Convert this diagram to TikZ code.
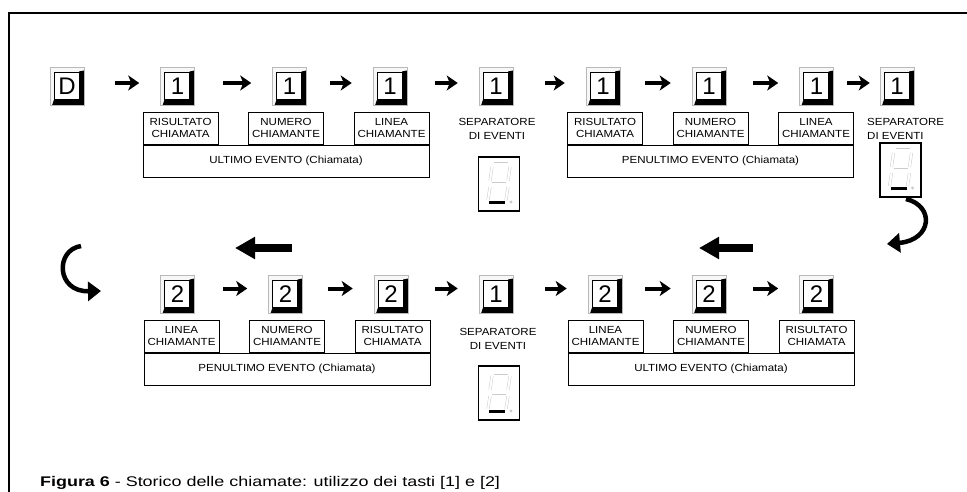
\documentclass[tikz,border=0pt]{standalone}
\usepackage{fontspec}
\setmainfont{Liberation Sans}
\newfontfamily\largo[FakeStretch=1.12]{Liberation Sans}
\newfontfamily\largodid[FakeStretch=1.28]{Liberation Sans}
\usetikzlibrary{positioning,arrows.meta}

\tikzset{
    tasto/.style={rectangle, minimum width=34pt, minimum height=38pt, inner sep=0pt,
        draw=gray!55, line width=0.5pt, fill=gray!6, font=\fontsize{24}{24}\selectfont,
        path picture={
            \fill[black] ([yshift=-3pt]path picture bounding box.north east)
                -- (path picture bounding box.south east)
                -- ([xshift=2pt]path picture bounding box.south west)
                -- ([xshift=4pt,yshift=6pt]path picture bounding box.south west)
                -- ([xshift=-5pt,yshift=6pt]path picture bounding box.south east)
                -- ([xshift=-5pt,yshift=-4pt]path picture bounding box.north east) -- cycle;
            \filldraw[fill=white, draw=black, line width=0.7pt]
                ([xshift=4pt,yshift=-5pt]path picture bounding box.north west)
                rectangle ([xshift=-5pt,yshift=6pt]path picture bounding box.south east);
        }},
    campo/.style={rectangle, draw, line width=0.6pt, minimum width=75pt, minimum height=32pt,
        inner sep=0pt, align=center, font=\fontsize{10.3}{12}\largo},
    evento/.style={campo, minimum width=286pt},
    nota/.style={align=center, inner sep=0pt, font=\fontsize{10.3}{13.5}\largo},
    segm/.style={draw=gray!40, line width=0.5pt, double=white, double distance=2pt},
    display/.style={rectangle, draw, line width=1.6pt, fill=white, minimum width=41pt, minimum height=54pt,
        path picture={
            \begin{scope}[shift={(path picture bounding box.center)}]
                \draw[segm] (-5,-20) -- (9,-20);
                \draw[segm] (-7,-17) -- (-9,-3);
                \draw[segm] (11,-17) -- (9,-3);
                \draw[segm] (-7,0) -- (7,0);
                \draw[segm] (-9,3) -- (-11,16);
                \draw[segm] (9,3) -- (7,16);
                \draw[line width=2.2pt] (-10,18.5) -- (6,18.5);
                \fill[gray!40] (12,18) circle (1.6pt);
            \end{scope}
        }},
    freccia/.style={line width=4pt, shorten >=21pt, -{Stealth[length=11pt,width=15pt,inset=3pt]}},
    frecciona/.style={line width=8pt, -{Triangle[length=20pt,width=21pt]}},
    giro/.style={line width=4.5pt, -{Triangle[length=13pt,width=19pt]}},
    cornice/.style={line width=2pt}
}

\begin{document}
\begin{tikzpicture}[x=1pt, y=-1pt]
    \useasboundingbox (0,0) rectangle (967,492);
    \draw[cornice] (9,492) -- (9,13) -- (967,13);

    \node[tasto] (tD) at (67,86.5) {D};
    \foreach \n/\x in {a1/177.5, a2/289.5, a3/390, s1/496, b1/603, b2/709, b3/816.5, s2/897}
        \node[tasto] (\n) at (\x,86.5) {1};
    \foreach \n/\x in {c1/177.5, c2/285.5, c3/391, d1/605, d2/709, d3/816.5}
        \node[tasto] (\n) at (\x,294.5) {2};
    \node[tasto] (s3) at (496,294.5) {1};

    \foreach \a/\b/\s in {tD/a1/31pt, a1/a2/28pt, a2/a3/23pt, a3/s1/28pt, s1/b1/32pt, b1/b2/25pt, b2/b3/27pt}
        \draw[freccia, shorten <=\s] ([yshift=3.5pt]\a.east) -- ([yshift=3.5pt]\b.west);
    \draw[freccia, shorten <=13pt, shorten >=10pt] ([yshift=3.5pt]b3.east) -- ([yshift=3.5pt]s2.west);
    \foreach \a/\b/\s in {c1/c2/28pt, c2/c3/25pt, c3/s3/27pt, s3/d1/32pt, d1/d2/23pt, d2/d3/27pt}
        \draw[freccia, shorten <=\s] ([yshift=6pt]\a.east) -- ([yshift=6pt]\b.west);

    \node[evento] (ue1) at (286,161) {ULTIMO EVENTO (Chiamata)};
    \node[campo, anchor=south west] (ris1) at (ue1.north west) {RISULTATO\\CHIAMATA};
    \node[campo, anchor=south] (num1) at (ue1.north) {NUMERO\\CHIAMANTE};
    \node[campo, anchor=south east] (lin1) at (ue1.north east) {LINEA\\CHIAMANTE};

    \node[evento] (pe1) at (710.5,161) {PENULTIMO EVENTO (Chiamata)};
    \node[campo, anchor=south west] (ris2) at (pe1.north west) {RISULTATO\\CHIAMATA};
    \node[campo, anchor=south] (num2) at (pe1.north) {NUMERO\\CHIAMANTE};
    \node[campo, anchor=south east] (lin2) at (pe1.north east) {LINEA\\CHIAMANTE};

    \node[evento] (pe2) at (287,369) {PENULTIMO EVENTO (Chiamata)};
    \node[campo, anchor=south west] (lin3) at (pe2.north west) {LINEA\\CHIAMANTE};
    \node[campo, anchor=south] (num3) at (pe2.north) {NUMERO\\CHIAMANTE};
    \node[campo, anchor=south east] (ris3) at (pe2.north east) {RISULTATO\\CHIAMATA};

    \node[evento] (ue2) at (711,369) {ULTIMO EVENTO (Chiamata)};
    \node[campo, anchor=south west] (lin4) at (ue2.north west) {LINEA\\CHIAMANTE};
    \node[campo, anchor=south] (num4) at (ue2.north) {NUMERO\\CHIAMANTE};
    \node[campo, anchor=south east] (ris4) at (ue2.north east) {RISULTATO\\CHIAMATA};

    \node[nota] (sep1) at (497,129) {SEPARATORE\\DI EVENTI};
    \node[nota, align=left, anchor=west] (sep2) at (867,129) {SEPARATORE\\DI EVENTI};
    \node[nota] (sep3) at (498,339) {SEPARATORE\\DI EVENTI};

    \node[display] (dA) at (499,184) {};
    \node[display] (dB) at (900.5,170) {};
    \node[display] (dC) at (499,393) {};

    \coordinate (g1) at (292,248);
    \coordinate (h1) at (235,248);
    \coordinate (g2) at (753,248);
    \coordinate (h2) at (699,248);
    \draw[frecciona] (g1) -- (h1);
    \draw[frecciona] (g2) -- (h2);

    \coordinate (ra) at (906,199);
    \coordinate (rb) at (887,244);
    \draw[giro] (ra) .. controls (935,206) and (932,240) .. (rb);
    \coordinate (la) at (81,246);
    \coordinate (lb) at (101,291);
    \draw[giro] (la) .. controls (55,250) and (56,292) .. (lb);

    \node[anchor=base west, inner sep=0pt, font=\fontsize{14}{14}\largodid] (didascalia) at (40,486)
        {\textbf{Figura 6} - Storico delle chiamate: utilizzo dei tasti [1] e [2]};
\end{tikzpicture}
\end{document}
